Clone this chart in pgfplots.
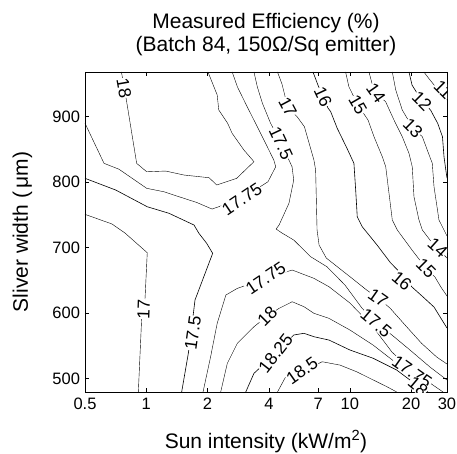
\documentclass[border=0pt]{standalone}
\usepackage{pgfplots}
\pgfplotsset{compat=1.18}
\usepackage{fontspec}
\setmainfont{Liberation Sans}
\tikzset{clabel/.style={fill=white, inner sep=0.2pt, font=\fontsize{17.5}{17.5}\selectfont}}
\begin{document}
\begin{tikzpicture}
\path[use as bounding box] (-85pt,-61pt) rectangle (372pt,392pt);
\begin{axis}[
  at={(0,0)}, anchor=south west,
  scale only axis, width=362pt, height=320pt,
  xmode=log, xmin=0.5, xmax=30, ymin=479.5, ymax=968,
  xtick={0.5,1,2,4,7,10,20,30},
  xticklabels={0.5,1,2,4,7,10,20,30},
  ytick={500,600,700,800,900},
  yticklabels={500,600,700,800,900},
  minor xtick={},
  tick align=inside, major tick length=4pt,
  tick style={black, line width=0.6pt},
  axis line style={line width=0.8pt},
  /pgf/number format/assume math mode=true,
  ticklabel style={font=\fontsize{16.5}{18}\selectfont},
  xticklabel style={yshift=-2.5pt},
  yticklabel style={xshift=-1.5pt},
  xlabel={Sun intensity (kW/m\textsuperscript{2})},
  ylabel={Sliver width (\,μm)},
  label style={font=\fontsize{21}{24}\selectfont},
  xlabel style={at={(axis description cs:0.5,-0.175)}, anchor=base},
  ylabel style={at={(axis description cs:-0.173,0.5)}, anchor=center},
  cycle list={{black, solid, line width=0.6pt, mark=none}},
]
% 18 (top-left closed)
\addplot coordinates {(0.755,968) (0.801,922.6) (0.897,828.5) (1.005,815.7) (1.245,816.8) (1.532,810.7) (2.035,806.6) (2.218,795.5) (2.78,805.7) (3.38,831.1) (3.017,848.9) (2.64,874.4) (2.51,889.7) (2.27,910) (2.23,932.9) (2.01,968)};
% 17.75 upper
\addplot coordinates {(0.5,889.7) (0.620,828.6) (0.735,819.5) (1.005,790.4) (1.221,785.2) (1.532,775.1) (1.773,768.7) (2.104,758.8) (2.919,774.1) (3.962,800.5) (4.323,823.4) (4.23,833.6) (3.93,853.9) (3.51,884.5) (3.13,915) (2.80,945.6) (2.643,968)};
% 17.5 left
\addplot coordinates {(0.5,805.7) (0.708,787.8) (1.011,762.3) (1.293,752.3) (1.716,734.4) (1.814,721.7) (1.98,706.5) (2.119,691.2) (1.735,619.9) (1.70,597) (1.61,539) (1.492,479.5)};
% 17 left
\addplot coordinates {(0.5,750.7) (0.678,736) (0.786,722.2) (1.011,692.1) (0.985,619.9) (0.949,591.9) (0.914,479.5)};
% 17.5 right
\addplot coordinates {(3.38,968) (3.51,945.5) (3.72,920.2) (4.08,889.7) (4.59,859.6) (5.20,823.4) (5.30,803.1) (5.02,767.5) (4.49,734.4) (4.34,728.3) (4.64,722.2) (5.30,711.5) (6.42,686) (7.72,670.7) (9.46,642.8) (11.46,607.7) (13.44,584.8) (16.1,566.5) (19.74,543.6) (24.75,517.6) (30,497.8)};
% 17 right
\addplot coordinates {(4.41,968) (4.64,949.7) (4.95,914.5) (5.52,899.3) (5.98,884.5) (6.66,833.6) (6.79,818.4) (6.90,726.8) (7.06,703.9) (7.66,684) (10.01,655.5) (12.09,635.2) (13.74,622.9) (15.74,607.7) (19.0,579.1) (22.5,553.8) (26.7,532.9) (30,522.2)};
% 16
\addplot coordinates {(6.59,968) (6.97,948.1) (7.38,929.8) (7.81,913) (8.05,907.4) (8.67,882) (9.68,851.5) (10.47,828.6) (10.68,787.8) (10.87,747) (11.50,731.8) (13.6,703.9) (15.87,676.4) (17.77,661.1) (20.2,639.7) (22.9,624.5) (25.9,609.2) (30,577.1)};
% 15
\addplot coordinates {(9.53,968) (9.89,945.5) (10.95,917.6) (12.28,894.7) (13.14,869.2) (14.43,838.7) (15.0,823.4) (15.57,782.8) (16.16,742) (17.1,726.8) (20.2,696.2) (23.65,668.7) (26.18,655) (28.0,639.7) (30,626)};
% 14
\addplot coordinates {(12.41,968) (12.83,951.2) (13.44,935.9) (14.99,922.6) (16.47,894.7) (18.09,869.2) (19.52,843.8) (20.25,823.4) (20.65,777.6) (21.85,742) (22.7,726.8) (24.75,711.5) (26.8,699.3) (30,684)};
% 13
\addplot coordinates {(16.16,968) (16.8,940.5) (18.09,910) (20.4,882.5) (22.7,869.2) (24.0,848.9) (25.4,828.6) (25.9,792.9) (27.4,742) (29.0,726.8) (30,717.6)};
% 12
\addplot coordinates {(19.52,968) (20.2,948.1) (22.6,923.7) (24.9,910) (27.0,889.7) (28.5,869.2) (29.0,838.7) (29.6,818.4) (30,806.1)};
% 11
\addplot coordinates {(23.1,968) (24.75,955.8) (27.7,937.4) (30,925.3)};
% 17.75 lower
\addplot coordinates {(1.90,479.5) (2.07,533.3) (2.23,584.3) (2.46,627.5) (2.80,637.7) (3.86,653) (5.21,665.7) (6.66,653) (7.90,640.2) (10.01,615.3) (13.0,578.7) (16.1,540.5) (20.2,511.5) (25.6,490.1) (28.7,479.5)};
% 18 lower
\addplot coordinates {(2.32,479.5) (2.50,523.2) (2.80,553.8) (3.38,579.1) (3.93,595.5) (4.49,607.2) (5.21,617.3) (5.95,609.7) (6.66,599.6) (7.90,591.9) (10.01,574.1) (13.0,551.2) (16.66,525.2) (20.89,494.7) (24.2,479.5)};
% 18.25
\addplot coordinates {(3.08,479.5) (3.38,508) (4.32,538.5) (5.30,566.5) (5.95,569.1) (6.66,563.9) (7.90,558.8) (10.01,543.6) (13.04,530.9) (16.99,513) (19.74,497.8) (22.5,479.5)};
% 18.5
\addplot coordinates {(4.41,479.5) (4.84,502.8) (5.82,510) (7.31,525.7) (8.94,520.6) (10.80,510.4) (13.04,497.8) (15.2,487.6) (16.99,479.5)};
% contour labels
\node[clabel, rotate=-80] at (axis cs:0.777,943.6) {18};
\node[clabel, rotate=34] at (axis cs:2.95,774) {17.75};
\node[clabel, rotate=82] at (axis cs:1.696,569.5) {17.5};
\node[clabel, rotate=88] at (axis cs:0.971,606) {17};
\node[clabel, rotate=-65] at (axis cs:4.59,859.6) {17.5};
\node[clabel, rotate=-62] at (axis cs:4.95,914.5) {17};
\node[clabel, rotate=-65] at (axis cs:7.38,929.8) {16};
\node[clabel, rotate=-60] at (axis cs:10.95,917.6) {15};
\node[clabel, rotate=-55] at (axis cs:13.44,935.9) {14};
\node[clabel, rotate=-45] at (axis cs:20.4,882.5) {13};
\node[clabel, rotate=-45] at (axis cs:22.6,923.7) {12};
\node[clabel, rotate=-45] at (axis cs:28.8,941) {11};
\node[clabel, rotate=-42] at (axis cs:27.0,699.3) {14};
\node[clabel, rotate=-45] at (axis cs:23.65,668.7) {15};
\node[clabel, rotate=-40] at (axis cs:18.0,648.9) {16};
\node[clabel, rotate=-35] at (axis cs:13.74,622.9) {17};
\node[clabel, rotate=-40] at (axis cs:13.44,584.8) {17.5};
\node[clabel, rotate=34] at (axis cs:3.86,653) {17.75};
\node[clabel, rotate=45] at (axis cs:3.93,595.5) {18};
\node[clabel, rotate=52] at (axis cs:4.32,538.5) {18.25};
\node[clabel, rotate=35] at (axis cs:5.82,512) {18.5};
\node[clabel, rotate=-35] at (axis cs:20.2,510) {17.75};
\node[clabel, rotate=-40] at (axis cs:21.6,488) {18};
\end{axis}
\node[anchor=base, font=\fontsize{21}{24}\selectfont] at (181pt,363pt) {Measured Efficiency (\%)};
\node[anchor=base, font=\fontsize{21}{24}\selectfont] at (181pt,340pt) {(Batch 84, 150Ω/Sq emitter)};
\end{tikzpicture}
\end{document}
